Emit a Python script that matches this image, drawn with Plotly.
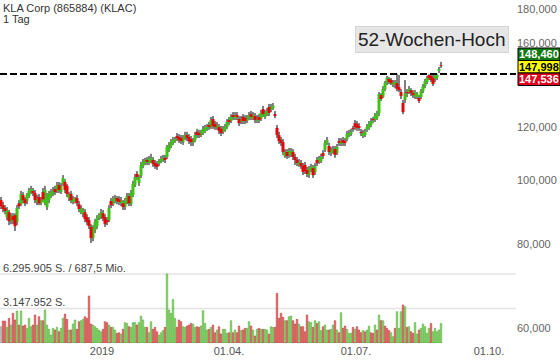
import math
import plotly.graph_objects as go

# ---------------- data ----------------
title_text = "KLA Corp (865884) (KLAC)"
interval_text = "1 Tag"

open_ = [
    93.2, 91.6, 90.7, 87.9, 89.4, 86.7, 88.2, 88.5, 86.4, 92.2,
    91.9, 94.9, 93.5, 92.9, 94.5, 95.8, 96.2, 95.5, 92.6, 94.2,
    92.2, 95.8, 92.2, 91.0, 93.2, 94.5, 95.5, 96.8, 96.2, 98.2,
    95.8, 98.5, 99.2, 97.9, 93.9, 95.2, 92.6, 92.9, 93.9, 91.9,
    89.4, 88.8, 89.4, 87.9, 87.0, 85.0, 81.8, 84.1, 85.2, 87.6,
    88.2, 89.1, 87.9, 87.0, 87.0, 92.9, 91.9, 92.9, 93.9, 93.5,
    92.2, 92.2, 91.0, 92.6, 94.5, 91.9, 94.9, 98.2, 102.0, 98.9,
    101.3, 104.8, 105.9, 107.0, 105.9, 106.6, 107.0, 105.9, 105.6, 105.6,
    106.6, 107.0, 107.8, 108.1, 110.7, 112.3, 113.5, 114.2, 116.2, 115.8,
    115.4, 113.8, 115.4, 116.6, 115.8, 115.0, 113.5, 114.6, 117.9, 117.4,
    116.6, 117.4, 118.3, 119.1, 120.7, 119.9, 123.2, 121.1, 119.5, 119.9,
    119.1, 117.9, 118.7, 119.9, 122.8, 122.4, 124.9, 123.6, 124.9, 123.2,
    122.0, 124.1, 123.6, 122.4, 123.6, 125.3, 123.6, 124.5, 122.4, 124.1,
    123.2, 127.5, 124.1, 125.3, 128.4, 127.1, 128.0, 125.3, 119.5, 116.6,
    114.6, 113.8, 108.5, 110.0, 108.9, 108.9, 110.0, 108.1, 107.0, 105.2,
    105.9, 104.8, 105.2, 103.4, 101.6, 103.4, 104.1, 102.7, 107.0, 106.3,
    106.6, 109.6, 110.7, 113.5, 112.3, 109.6, 110.0, 111.1, 109.6, 114.2,
    113.1, 114.6, 114.2, 115.0, 116.6, 117.0, 119.5, 121.5, 121.1, 120.3,
    117.9, 116.2, 116.6, 118.7, 119.5, 120.7, 123.2, 122.8, 123.6, 125.8,
    133.8, 132.9, 136.6, 139.4, 141.4, 140.9, 139.0, 138.5, 139.4, 137.5,
    135.2, 130.2, 131.6, 135.2, 135.2, 136.1, 134.7, 133.4, 132.9, 132.5,
    132.9, 135.6, 138.0, 139.9, 143.4, 142.9, 141.9, 141.4, 141.9, 145.4, 148.4,
]
close_ = [
    91.3, 90.4, 89.8, 90.1, 86.7, 88.5, 87.0, 85.2, 90.7, 91.3,
    95.2, 93.2, 92.2, 94.9, 96.2, 96.8, 95.5, 93.2, 93.9, 92.2,
    93.2, 93.5, 96.5, 93.9, 95.2, 95.8, 96.5, 95.8, 98.2, 96.5,
    97.9, 100.6, 96.5, 95.2, 95.2, 93.2, 93.9, 93.5, 92.2, 90.4,
    90.7, 89.8, 87.3, 86.4, 85.2, 81.8, 84.7, 86.4, 87.6, 88.5,
    89.4, 87.6, 85.8, 86.4, 90.7, 91.6, 93.5, 93.9, 92.9, 92.6,
    93.2, 91.0, 92.9, 94.5, 92.2, 95.5, 98.5, 100.9, 100.9, 100.9,
    105.2, 106.3, 107.0, 106.3, 107.4, 107.8, 105.6, 104.8, 104.5, 106.6,
    107.4, 107.8, 107.0, 111.9, 112.7, 113.8, 114.6, 115.0, 115.4, 114.6,
    114.2, 115.4, 116.6, 115.4, 114.2, 113.8, 114.6, 116.6, 116.6, 116.6,
    117.9, 119.1, 119.5, 119.9, 119.9, 122.8, 120.3, 119.9, 120.7, 118.3,
    117.4, 119.1, 119.9, 122.0, 122.0, 124.1, 124.1, 124.9, 124.1, 121.5,
    123.2, 122.4, 122.4, 123.6, 124.9, 124.1, 124.9, 122.8, 123.6, 122.8,
    125.8, 125.3, 125.8, 126.7, 125.8, 128.4, 128.9, 124.5, 116.6, 114.2,
    113.5, 110.0, 110.0, 108.5, 110.4, 110.4, 108.1, 107.0, 105.9, 106.3,
    104.8, 102.7, 103.0, 102.0, 103.8, 104.5, 101.6, 104.8, 105.9, 107.4,
    108.1, 108.5, 113.5, 114.6, 110.0, 110.7, 111.1, 108.9, 111.9, 113.5,
    114.2, 113.5, 113.5, 117.0, 117.4, 117.9, 119.1, 119.9, 119.5, 119.5,
    117.4, 117.4, 117.9, 119.9, 121.1, 122.4, 122.8, 124.5, 125.8, 134.3,
    132.0, 136.6, 139.4, 141.9, 139.9, 139.4, 139.9, 139.9, 136.6, 136.1,
    133.4, 126.2, 134.7, 134.7, 136.6, 134.7, 133.8, 135.2, 134.3, 131.1,
    135.6, 138.0, 140.4, 141.9, 141.9, 140.9, 139.0, 142.9, 143.4, 146.4, 148.0,
]
high_ = [
    94.2, 92.6, 91.6, 91.0, 90.1, 89.1, 89.1, 89.1, 91.6, 93.2,
    96.2, 95.8, 94.2, 95.5, 97.2, 97.9, 97.2, 96.5, 94.9, 95.2,
    94.2, 97.2, 97.9, 95.5, 96.2, 96.8, 97.5, 97.9, 99.2, 99.2,
    98.9, 101.6, 100.2, 98.5, 95.8, 96.2, 94.5, 94.2, 94.9, 92.9,
    91.6, 90.7, 90.4, 88.8, 87.9, 85.8, 85.5, 87.3, 88.5, 89.1,
    90.4, 90.1, 88.8, 87.9, 91.6, 93.9, 94.5, 94.9, 94.5, 94.5,
    94.2, 93.2, 93.9, 95.5, 95.5, 96.5, 99.6, 102.0, 103.0, 101.6,
    106.3, 107.4, 107.8, 108.1, 108.5, 109.3, 108.1, 107.0, 106.6, 107.4,
    108.5, 108.9, 108.9, 112.7, 113.8, 115.0, 115.8, 115.8, 117.4, 117.0,
    116.6, 116.6, 117.9, 117.9, 117.0, 116.2, 115.4, 117.9, 119.1, 118.7,
    118.7, 120.3, 120.7, 121.1, 122.0, 124.1, 124.5, 122.4, 122.0, 121.1,
    120.3, 120.3, 121.1, 123.2, 124.1, 125.3, 126.2, 126.2, 126.2, 124.5,
    124.5, 125.3, 124.9, 124.9, 126.2, 126.7, 126.2, 125.8, 124.9, 125.3,
    127.1, 128.9, 127.1, 128.0, 129.8, 129.8, 130.2, 126.7, 120.7, 117.9,
    115.8, 115.0, 111.1, 111.1, 111.5, 111.5, 111.1, 109.3, 108.1, 107.4,
    107.0, 105.9, 106.3, 104.5, 104.8, 105.6, 105.2, 105.9, 108.1, 108.5,
    109.3, 110.7, 114.6, 115.8, 113.5, 111.9, 112.3, 112.3, 113.1, 115.4,
    115.4, 115.8, 115.4, 118.3, 118.7, 119.1, 120.3, 122.8, 122.4, 121.5,
    119.1, 118.7, 119.1, 121.1, 122.4, 123.6, 124.1, 125.8, 126.7, 135.2,
    134.7, 138.0, 140.4, 142.9, 142.4, 141.9, 140.9, 140.9, 143.9, 143.4,
    136.6, 131.6, 140.9, 136.6, 138.0, 137.0, 136.1, 136.1, 135.2, 133.8,
    136.6, 139.0, 141.4, 142.9, 143.7, 143.6, 143.4, 143.6, 143.9, 147.4, 150.0,
]
low_ = [
    90.4, 89.4, 88.8, 87.0, 85.5, 85.8, 85.8, 83.8, 85.5, 90.4,
    91.3, 92.2, 91.3, 91.9, 93.9, 95.2, 94.5, 92.2, 91.6, 91.6,
    91.6, 92.6, 91.6, 90.1, 92.2, 93.9, 94.5, 94.9, 95.5, 95.5,
    95.2, 97.9, 95.5, 94.2, 92.9, 92.2, 91.9, 92.2, 91.3, 89.4,
    88.8, 87.9, 86.4, 85.5, 84.4, 80.4, 80.9, 83.2, 84.4, 87.0,
    87.3, 86.7, 85.0, 85.5, 86.4, 90.7, 91.3, 92.2, 91.9, 91.6,
    91.3, 90.1, 90.1, 91.9, 91.3, 91.3, 94.2, 97.5, 99.9, 97.9,
    100.6, 104.1, 105.2, 105.2, 105.2, 105.9, 104.5, 103.8, 103.4, 104.8,
    105.9, 106.3, 105.9, 107.4, 110.0, 111.5, 112.7, 113.5, 114.2, 113.5,
    113.1, 112.7, 114.6, 114.2, 113.1, 112.3, 112.3, 113.8, 115.4, 115.4,
    115.8, 116.6, 117.4, 118.3, 118.7, 119.1, 119.1, 118.7, 118.7, 117.0,
    116.2, 117.0, 117.9, 119.1, 120.7, 121.5, 122.8, 122.8, 122.8, 120.3,
    121.1, 121.1, 121.1, 121.5, 122.8, 122.8, 122.8, 121.5, 121.5, 121.5,
    122.4, 124.1, 123.2, 124.5, 124.5, 126.2, 127.1, 123.6, 115.4, 113.1,
    112.3, 108.9, 107.8, 107.4, 107.8, 108.1, 107.0, 105.2, 104.8, 104.5,
    103.8, 101.6, 102.0, 100.9, 100.6, 102.7, 100.6, 101.6, 104.8, 105.6,
    105.9, 107.4, 110.0, 112.7, 108.9, 108.5, 109.3, 107.8, 108.9, 112.3,
    112.3, 112.3, 112.3, 114.2, 115.8, 116.2, 117.9, 118.7, 118.3, 118.3,
    116.2, 115.4, 115.8, 117.9, 118.7, 119.9, 121.5, 122.0, 122.8, 124.5,
    131.1, 132.5, 135.6, 138.5, 139.0, 138.5, 137.5, 137.0, 135.6, 135.2,
    132.0, 125.3, 130.2, 132.9, 134.3, 133.4, 132.5, 132.0, 132.0, 130.2,
    132.0, 134.7, 137.0, 139.0, 140.9, 139.9, 138.0, 139.9, 140.9, 144.4, 146.9,
]
# volume in million shares
volume_mio = [
    1.49, 2.01, 2.01, 1.43, 2.25, 1.64, 2.71, 2.10, 2.92, 1.64,
    2.92, 1.55, 1.64, 1.34, 2.25, 1.49, 1.64, 2.56, 1.64, 2.40,
    2.04, 2.04, 3.01, 1.64, 1.25, 0.73, 1.34, 1.19, 1.43, 1.03,
    1.34, 2.25, 2.65, 2.16, 1.19, 1.19, 1.73, 2.10, 1.25, 1.95,
    2.04, 2.16, 2.40, 2.25, 4.29, 1.73, 1.64, 1.49, 1.34, 1.19,
    1.03, 1.25, 1.95, 1.86, 1.64, 1.43, 1.43, 1.19, 0.88, 0.94,
    0.82, 1.25, 1.86, 1.79, 1.49, 1.43, 1.86, 1.86, 1.64, 1.86,
    2.46, 2.10, 1.43, 1.43, 0.94, 1.95, 1.25, 1.43, 1.03, 0.73,
    0.94, 1.13, 1.43, 6.30, 3.01, 2.71, 3.98, 2.25, 1.43, 2.10,
    1.95, 1.49, 1.43, 1.55, 1.64, 1.79, 1.73, 1.43, 1.49, 1.43,
    1.55, 2.95, 1.79, 1.19, 1.25, 1.43, 1.64, 0.94, 1.19, 1.49,
    0.82, 1.25, 1.25, 0.88, 0.94, 2.04, 0.94, 1.19, 0.94, 1.55,
    1.13, 1.19, 1.34, 1.34, 1.95, 1.55, 1.19, 0.64, 1.25, 1.34,
    1.25, 1.25, 1.25, 1.19, 0.82, 1.49, 1.43, 1.43, 4.53, 2.25,
    2.71, 2.34, 2.04, 2.04, 2.40, 2.46, 2.04, 1.73, 2.16, 1.73,
    1.49, 1.49, 1.03, 2.56, 1.95, 1.86, 1.43, 2.04, 1.79, 1.95,
    1.13, 1.49, 1.64, 1.19, 1.19, 1.25, 1.64, 2.04, 1.19, 0.94,
    2.77, 1.34, 1.55, 1.25, 0.88, 0.88, 1.43, 1.25, 1.49, 1.19,
    0.94, 1.13, 1.03, 1.19, 1.55, 0.94, 0.88, 1.64, 1.19, 2.56,
    2.04, 2.04, 1.55, 1.34, 1.13, 0.94, 0.58, 1.34, 2.86, 1.34,
    2.86, 3.47, 3.31, 1.43, 1.49, 1.03, 0.88, 1.86, 0.82, 1.19,
    1.34, 1.73, 1.49, 0.88, 1.34, 1.79, 1.03, 1.34, 1.03, 1.19, 1.79,
]
# volume colour: G = up, R = down, N = neutral
volume_dir = list(
    "NRRGRGRRGR" "GRRGGGRRGR" "GRGGGGGRGR" "GGRRGRGGRR" "GGRRRRGGGG"
    "GRRRGRGGRR" "GRGGRGGGRG" "GGGRGGRRRG" "GGRGGGGGRR" "RGGRRRGGRR"
    "GGGGRGRRGR" "RGGGRGRGRR" "GRRGGRGRGR" "GRGGRGGRRR" "RRGRGGRRRG"
    "RRRRGGRGRG" "GRGGRGGRGR" "GRRGGGRGRR" "RGRGGRRGRG" "RGRRRGGRGG"
    "GRGRGRRGGR" "GGGGGRGGGGG"
)

week52_high = 143.9
vol_max_label = 6295905
vol_half_label = 3147952
vol_text_max = "6.295.905 S. / 687,5 Mio."
vol_text_half = "3.147.952 S."
price_ticks = [60, 80, 100, 120, 160, 180]
price_tick_text = ["60,000", "80,000", "100,000", "120,000", "160,000", "180,000"]
x_tick_pos = [50.5, 114, 177.5, 244]
x_tick_text = ["2019", "01.04.", "01.07.", "01.10."]
quote_labels = ["148,460", "147,998", "147,536"]

# ---------------- layout geometry ----------------
W, H = 560, 363
ML, MR, MT, MB = 0, 44, 0, 20
PW, PH = W - ML - MR, H - MT - MB
FONT = "Liberation Sans, Arial, sans-serif"


def fx(px):
    return (px - ML) / PW


def fy(py):
    return 1 - (py - MT) / PH


n = len(close_)
xs = list(range(n))

GREEN = "#3cc414"
RED = "#e20808"

# wicks
wx, wy = [], []
for i in range(n):
    wx += [i, i, None]
    wy += [low_[i], high_[i], None]

# bodies, drawn as thick vertical strokes on top of the wicks
body = {"up": ([], []), "down": ([], [])}
for i in range(n):
    lo = min(open_[i], close_[i])
    hi = max(open_[i], close_[i])
    if hi - lo < 0.35:
        mid = (hi + lo) / 2
        lo, hi = mid - 0.18, mid + 0.18
    key = "up" if close_[i] >= open_[i] else "down"
    body[key][0].extend([i, i, None])
    body[key][1].extend([lo, hi, None])

vol = [v * 1e6 for v in volume_mio]
vfill = {"G": "rgba(128,212,96,0.9)", "R": "rgba(232,96,96,0.9)", "N": "rgba(190,190,190,0.9)"}
vline = {"G": "rgba(64,160,36,0.9)", "R": "rgba(180,36,36,0.9)", "N": "rgba(140,140,140,0.9)"}

fig = go.Figure()
fig.add_trace(go.Bar(
    x=xs, y=vol, yaxis="y2", width=0.8,
    marker=dict(color=[vfill[d] for d in volume_dir],
                line=dict(color=[vline[d] for d in volume_dir], width=0.5)),
    hoverinfo="skip", showlegend=False,
))
fig.add_trace(go.Scatter(
    x=wx, y=wy, mode="lines", line=dict(color="black", width=1),
    hoverinfo="skip", showlegend=False,
))
fig.add_trace(go.Scatter(
    x=body["up"][0], y=body["up"][1], mode="lines", line=dict(color=GREEN, width=3),
    hoverinfo="skip", showlegend=False,
))
fig.add_trace(go.Scatter(
    x=body["down"][0], y=body["down"][1], mode="lines", line=dict(color=RED, width=3),
    hoverinfo="skip", showlegend=False,
))

vol_top = vol_max_label * PH / (343 - 274)

shapes = []
for v in (vol_half_label, vol_max_label):
    shapes.append(dict(type="line", xref="paper", yref="y2", x0=0, x1=1, y0=v, y1=v,
                       line=dict(color="#e4e4e4", width=1.5), layer="below"))
shapes.append(dict(type="line", xref="paper", yref="y", x0=0, x1=1,
                   y0=week52_high, y1=week52_high,
                   line=dict(color="black", width=2, dash="7px,3px"), layer="above"))
box_cols = ["#137a13", "#ffff00", "#e3001b"]
box_txt_cols = ["white", "black", "white"]
tops = [48, 60.5, 73]
for k in range(3):
    shapes.append(dict(type="rect", xref="paper", yref="paper",
                       x0=fx(518), x1=fx(560), y0=fy(tops[k] + 12.5), y1=fy(tops[k]),
                       fillcolor=box_cols[k], line=dict(color="black", width=1), layer="above"))

ann = [
    dict(text=title_text, x=fx(1), y=fy(8), xanchor="left", yanchor="middle",
         font=dict(size=11, color="#333"), showarrow=False, xref="paper", yref="paper"),
    dict(text=interval_text, x=fx(1), y=fy(19), xanchor="left", yanchor="middle",
         font=dict(size=11, color="#333"), showarrow=False, xref="paper", yref="paper"),
    dict(text=vol_text_max, x=fx(1), y=fy(268), xanchor="left", yanchor="middle",
         font=dict(size=11, color="#444"), showarrow=False, xref="paper", yref="paper"),
    dict(text=vol_text_half, x=fx(1), y=fy(302), xanchor="left", yanchor="middle",
         font=dict(size=11, color="#444"), showarrow=False, xref="paper", yref="paper"),
    dict(text="52-Wochen-Hoch", x=fx(432), y=fy(40), xanchor="center", yanchor="middle",
         font=dict(size=19, color="#222"), showarrow=False, xref="paper", yref="paper",
         bgcolor="#e6e6e6", bordercolor="#d6d6d6", borderwidth=1, borderpad=2),
]
for k in range(3):
    ann.append(dict(text="<b>" + quote_labels[k] + "</b>", x=fx(539), y=fy(tops[k] + 6.25),
                    xanchor="center", yanchor="middle",
                    font=dict(size=11, color=box_txt_cols[k]), showarrow=False,
                    xref="paper", yref="paper"))

fig.update_layout(
    width=W, height=H, margin=dict(l=ML, r=MR, t=MT, b=MB),
    paper_bgcolor="white", plot_bgcolor="white",
    font=dict(family=FONT, size=11, color="#555"),
    barmode="overlay", showlegend=False, hovermode=False,
    xaxis=dict(range=[-0.5, 257.5], tickvals=x_tick_pos, ticktext=x_tick_text,
               showgrid=False, zeroline=False, showline=False, ticks="",
               tickfont=dict(size=11, color="#555")),
    yaxis=dict(type="log", side="right",
               range=[math.log10(57.0), math.log10(185.6)],
               tickvals=price_ticks, ticktext=price_tick_text,
               showgrid=False, zeroline=False, showline=False, ticks="",
               tickfont=dict(size=11, color="#666")),
    yaxis2=dict(overlaying="y", range=[0, vol_top], visible=False),
    shapes=shapes, annotations=ann,
)

fig.write_html("out.html", config={"displayModeBar": False})
